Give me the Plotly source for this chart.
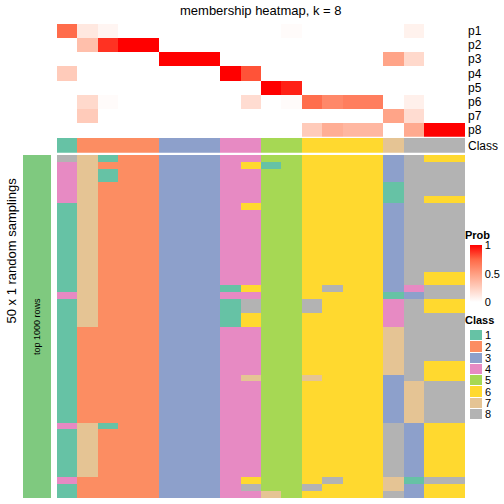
import plotly.graph_objects as go

# ---------------- data ----------------
samples = list(range(20))
prob_rows = ["p1", "p2", "p3", "p4", "p5", "p6", "p7", "p8"]
membership = [
    [0.73, 0.12, 0.05, 0, 0, 0, 0, 0, 0, 0, 0, 0.02, 0, 0, 0, 0, 0, 0.07, 0, 0],
    [0, 0.33, 0.88, 1, 1, 0, 0, 0, 0, 0, 0, 0, 0, 0, 0, 0, 0, 0, 0, 0],
    [0, 0, 0, 0, 0, 1, 1, 1, 0, 0, 0, 0, 0, 0, 0, 0, 0.47, 0.2, 0, 0],
    [0.27, 0, 0, 0, 0, 0, 0, 0, 1, 0.8, 0, 0, 0, 0, 0, 0, 0, 0, 0, 0],
    [0, 0, 0, 0, 0, 0, 0, 0, 0, 0, 1, 0.92, 0, 0, 0, 0, 0, 0, 0, 0],
    [0, 0.2, 0.02, 0, 0, 0, 0, 0, 0, 0.18, 0, 0.02, 0.72, 0.6, 0.65, 0.65, 0, 0.08, 0, 0],
    [0, 0.27, 0, 0, 0, 0, 0, 0, 0, 0, 0, 0, 0, 0, 0, 0, 0.47, 0.18, 0, 0],
    [0, 0, 0, 0, 0, 0, 0, 0, 0, 0, 0, 0, 0.27, 0.42, 0.37, 0.37, 0, 0.44, 1, 1],
]
class_labels = [1, 2, 2, 2, 2, 3, 3, 3, 4, 4, 5, 5, 6, 6, 6, 6, 7, 8, 8, 8]
sampling_rows = [
    "87122333445566663866",
    "47222333461566663888",
    "47122333445566663888",
    "47122333445566663888",
    "47222333445566661888",
    "47222333445566661888",
    "47222333445566661866",
    "17222333465566663888",
    "17222333445566663888",
    "17222333445566663888",
    "17222333445566663888",
    "17222333445566663888",
    "17222333445566663888",
    "17222333445566663888",
    "17222333445566663888",
    "17222333445566663888",
    "17222333445566663888",
    "17222333445566663866",
    "17222333445566663866",
    "17222333165568663488",
    "47222333445566661388",
    "17222333185586664866",
    "17222333185586664866",
    "17222333165566664888",
    "17222333165566664888",
    "12222333445566667888",
    "12222333445566667888",
    "12222333445566667888",
    "12222333445566667888",
    "12222333445566667888",
    "12222333445566667866",
    "12222333445566667866",
    "12222333475576663866",
    "12222333445566663788",
    "12222333445566663788",
    "12222333445566663788",
    "12222333445566663788",
    "12222333445566663788",
    "12222333445566663788",
    "47122333445566668366",
    "17222333445566668366",
    "17222333445566668366",
    "17222333445566668366",
    "17222333445566668366",
    "17222333445566668366",
    "17222333445566668366",
    "17222333445566668366",
    "42222333465568667188",
    "12222333485586667366",
    "12222333447566668366",
]
class_names = ["1", "2", "3", "4", "5", "6", "7", "8"]
class_colors = ["#66C2A5", "#FC8D62", "#8DA0CB", "#E78AC3",
                "#A6D854", "#FFD92F", "#E5C494", "#B3B3B3"]
prob_ticks = [0, 0.5, 1]

# ---------------- helpers ----------------
W = H = 504
def px(x):
    return x / W
def py(y):
    return 1 - y / H

sampling = [[int(ch) for ch in row] for row in sampling_rows]

# discrete colorscale for classes 1..8
n = len(class_colors)
cls_scale = []
for i, c in enumerate(class_colors):
    cls_scale.append([i / n, c])
    cls_scale.append([(i + 1) / n, c])

prob_scale = [[0, "#FFFFFF"], [0.25, "rgb(255,207,191)"], [0.5, "rgb(255,158,129)"],
              [0.75, "rgb(255,104,70)"], [1, "#FF0000"]]

FONT = "Liberation Sans, Arial, sans-serif"

fig = go.Figure()

# membership heatmap
fig.add_trace(go.Heatmap(
    z=membership, x=samples, y=list(range(len(prob_rows))),
    colorscale=prob_scale, zmin=0, zmax=1, xaxis="x", yaxis="y",
    hoverinfo="skip",
    colorbar=dict(x=px(470), xanchor="left", xpad=0, y=py(274), yanchor="middle",
                  ypad=0, len=57, lenmode="pixels", thickness=12, thicknessmode="pixels",
                  outlinewidth=0, tickvals=prob_ticks, ticktext=["0", "0.5", "1"],
                  ticks="", tickfont=dict(size=11, color="black", family=FONT)),
))

# class annotation row
fig.add_trace(go.Heatmap(
    z=[class_labels], x=samples, y=[0], colorscale=cls_scale, zmin=0.5, zmax=8.5,
    showscale=False, xaxis="x", yaxis="y2", hoverinfo="skip",
))

# main sampling heatmap
fig.add_trace(go.Heatmap(
    z=sampling, x=samples, y=list(range(len(sampling))), colorscale=cls_scale,
    zmin=0.5, zmax=8.5, showscale=False, xaxis="x", yaxis="y3", hoverinfo="skip",
))

# left grouping bar
fig.add_trace(go.Heatmap(
    z=[[1]], x=[0], y=[0], colorscale=[[0, "#7FC97F"], [1, "#7FC97F"]],
    showscale=False, xaxis="x2", yaxis="y4", hoverinfo="skip",
))

# class legend swatches
fig.add_trace(go.Heatmap(
    z=[[i + 1] for i in range(n)], x=[0], y=list(range(n)), colorscale=cls_scale,
    zmin=0.5, zmax=8.5, showscale=False, xaxis="x3", yaxis="y5", ygap=1,
    hoverinfo="skip",
))

hid = dict(showgrid=False, zeroline=False, showticklabels=False, ticks="", showline=False)

fig.update_layout(
    width=W, height=H, margin=dict(l=0, r=0, t=0, b=0),
    paper_bgcolor="white", plot_bgcolor="white",
    font=dict(family=FONT, color="black"),
    xaxis=dict(domain=[px(57), px(465)], range=[-0.5, 19.5], anchor="y3", **hid),
    yaxis=dict(domain=[py(136.7), py(24)], range=[7.5, -0.5], anchor="x", side="right",
               showgrid=False, zeroline=False, ticks="", tickvals=list(range(8)),
               ticktext=prob_rows, tickfont=dict(size=12), ticklabelstandoff=2),
    yaxis2=dict(domain=[py(152.7), py(138)], range=[-0.5, 0.5], anchor="x", side="right",
                showgrid=False, zeroline=False, ticks="", tickvals=[0], ticktext=["Class"],
                tickfont=dict(size=12), ticklabelstandoff=2),
    yaxis3=dict(domain=[py(498), py(155)], range=[49.5, -0.5], anchor="x", **hid),
    xaxis2=dict(domain=[px(23), px(51)], range=[-0.5, 0.5], anchor="y4", **hid),
    yaxis4=dict(domain=[py(498), py(155)], range=[-0.5, 0.5], anchor="x2", **hid),
    xaxis3=dict(domain=[px(470), px(482)], range=[-0.5, 0.5], anchor="y5", **hid),
    yaxis5=dict(domain=[py(420), py(330)], range=[7.5, -0.5], anchor="x3", side="right",
                showgrid=False, zeroline=False, ticks="", tickvals=list(range(n)),
                ticktext=class_names, tickfont=dict(size=11), ticklabelstandoff=2),
    annotations=[
        dict(text="membership heatmap, k = 8", x=px(261), y=py(10), xref="paper", yref="paper",
             showarrow=False, font=dict(size=13), xanchor="center", yanchor="middle"),
        dict(text="50 x 1 random samplings", x=px(10.5), y=py(251), xref="paper", yref="paper",
             showarrow=False, textangle=-90, font=dict(size=13), xanchor="center", yanchor="middle"),
        dict(text="top 1000 rows", x=px(37), y=py(327), xref="paper", yref="paper",
             showarrow=False, textangle=-90, font=dict(size=9), xanchor="center", yanchor="middle"),
        dict(text="<b>Prob</b>", x=px(463), y=py(235), xref="paper", yref="paper",
             showarrow=False, font=dict(size=11), xanchor="left", yanchor="middle"),
        dict(text="<b>Class</b>", x=px(463), y=py(320), xref="paper", yref="paper",
             showarrow=False, font=dict(size=11), xanchor="left", yanchor="middle"),
    ],
)

fig.write_html("out.html", post_script="document.body.style.margin='0';",
               config={"displayModeBar": False})
